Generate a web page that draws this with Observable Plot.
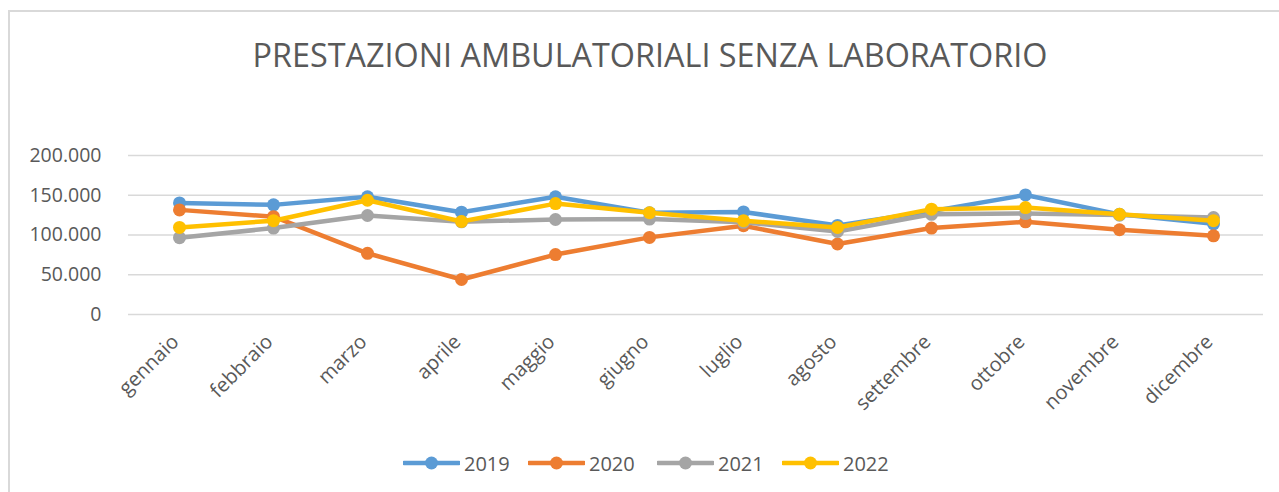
<!DOCTYPE html>
<html>
<head>
<meta charset="utf-8">
<script src="https://cdn.jsdelivr.net/npm/d3@7"></script>
<script src="https://cdn.jsdelivr.net/npm/@observablehq/plot@0.6"></script>
<style>
  html, body { margin: 0; padding: 0; background: #fff; }
  #wrap { position: relative; width: 1279px; height: 492px; overflow: hidden; font-family: "Open Sans", sans-serif; color: #595959; }
  #frame { position: absolute; left: 8px; top: 10px; width: 1400px; height: 600px; border-left: 2px solid #d9d9d9; border-top: 2px solid #d9d9d9; }
  #title { position: relative; height: 100px; }
  #title span { position: absolute; left: 650px; top: 39px; white-space: nowrap; font-size: 32px; line-height: 1; transform-origin: center; }
  #chart { position: relative; height: 340px; }
  #legend { position: relative; height: 52px; }
  .item { position: absolute; top: 0; height: 46px; display: flex; align-items: center; font-size: 20px; }
  .item svg { margin-right: 4px; }
</style>
</head>
<body>
<div id="wrap">
  <div id="frame"></div>
  <div id="title"><span id="titletext">PRESTAZIONI AMBULATORIALI SENZA LABORATORIO</span></div>
  <div id="chart"></div>
  <div id="legend"></div>
</div>
<script>
const months = ["gennaio","febbraio","marzo","aprile","maggio","giugno","luglio","agosto","settembre","ottobre","novembre","dicembre"];
const years = ["2019","2020","2021","2022"];
const v2019 = [140400,137900,148000,128700,148000,128000,129000,112000,130000,150400,126000,114000];
const v2020 = [131600,123000,77000,44000,75400,97000,111600,88700,108700,116600,106600,99000];
const v2021 = [96600,108700,124500,116600,119500,120000,116000,104500,126000,127000,125000,122000];
const v2022 = [109500,118000,143700,117000,139500,128000,118000,109500,132500,134500,126000,118000];
const yTicks = [0,50000,100000,150000,200000];
const colors = ["#5B9BD5","#ED7D31","#A5A5A5","#FFC000"];

const seriesValues = [v2019, v2020, v2021, v2022];
const data = [];
years.forEach((yr, i) => months.forEach((m, j) => data.push({year: yr, month: m, value: seriesValues[i][j]})));

const fmt = v => v === 0 ? "0" : d3.format(",")(v).replace(/,/g, ".");

const marks = [
  Plot.ruleY(yTicks, {stroke: "#d9d9d9", strokeWidth: 1.3}),
  Plot.axisY(yTicks, {tickSize: 0, tickPadding: 27, tickFormat: fmt, fontSize: 19.5, fill: "#595959", label: null}),
  Plot.axisX({tickSize: 0, tickRotate: -45, tickPadding: 24, dx: -4, fontSize: 20, fill: "#595959", label: null})
];
years.forEach((yr, i) => {
  const d = data.filter(r => r.year === yr);
  marks.push(Plot.line(d, {x: "month", y: "value", stroke: colors[i], strokeWidth: 4.5, strokeLinejoin: "round"}));
  marks.push(Plot.dot(d, {x: "month", y: "value", fill: colors[i], r: 6.5, stroke: "none"}));
});

const chart = Plot.plot({
  width: 1279,
  height: 340,
  marginLeft: 128,
  marginRight: 16,
  marginTop: 55,
  marginBottom: 126,
  style: {fontFamily: "Open Sans, sans-serif", background: "transparent", overflow: "visible"},
  x: {type: "point", domain: months, padding: 0.5},
  y: {domain: [0, 200000]},
  marks
});
document.getElementById("chart").appendChild(chart);

// title scaling to match reference width
const t = document.getElementById("titletext");
const w = t.getBoundingClientRect().width;
t.style.transform = `translateX(-50%) scaleX(${795 / w})`;

// legend
const legend = document.getElementById("legend");
const starts = [403, 528, 657, 782];
years.forEach((yr, i) => {
  const it = document.createElement("div");
  it.className = "item";
  it.style.left = starts[i] + "px";
  it.innerHTML = `<svg width="57" height="16"><line x1="1" x2="56" y1="8" y2="8" stroke="${colors[i]}" stroke-width="4.5" stroke-linecap="round"/><circle cx="28.5" cy="8" r="6.5" fill="${colors[i]}"/></svg><span>${yr}</span>`;
  legend.appendChild(it);
});
</script>
</body>
</html>
